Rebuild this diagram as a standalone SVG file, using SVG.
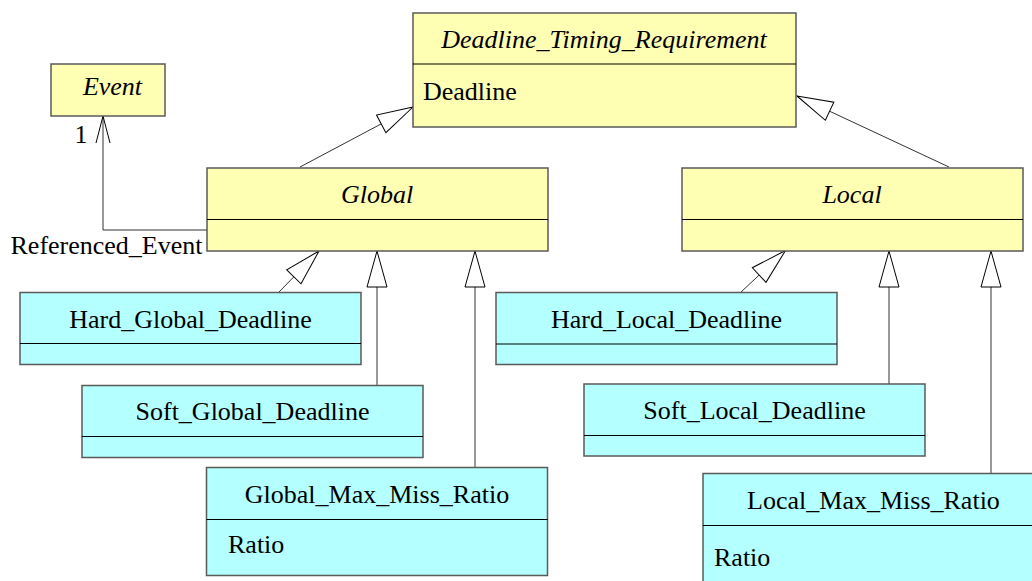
<svg xmlns="http://www.w3.org/2000/svg" width="1032" height="581" viewBox="0 0 1032 581">
<style>
text{font-family:'Liberation Serif',serif;font-size:26px;fill:#000}
.t{text-anchor:middle}
.i{font-style:italic}
.y{fill:#FFFFB4;stroke:#5a5a5a;stroke-width:1.5}
.c{fill:#B4FFFF;stroke:#5a5a5a;stroke-width:1.5}
.d{stroke:#000;stroke-width:1}
.ln{fill:none;stroke:#333;stroke-width:1}
</style>
<defs>
<marker id="genArrow" markerUnits="userSpaceOnUse" viewBox="-2 -12 40 24" refX="36" refY="0" markerWidth="40" markerHeight="24" orient="auto">
<path d="M36,0 L0,-10 L0,10 Z" fill="#fff" stroke="#000" stroke-width="1"/>
</marker>
<marker id="openArrow" markerUnits="userSpaceOnUse" viewBox="-2 -10 32 20" refX="27" refY="0" markerWidth="32" markerHeight="20" orient="auto">
<path d="M0,-7 L27,0 L0,7" fill="none" stroke="#000" stroke-width="1"/>
</marker>
</defs>
<g id="edges">
<line class="ln" x1="300" y1="167" x2="413" y2="107" marker-end="url(#genArrow)"/>
<line class="ln" x1="949" y1="167" x2="797" y2="96" marker-end="url(#genArrow)"/>
<line class="ln" x1="279" y1="292" x2="319" y2="251" marker-end="url(#genArrow)"/>
<line class="ln" x1="377" y1="385" x2="377" y2="251" marker-end="url(#genArrow)"/>
<line class="ln" x1="475" y1="467" x2="475" y2="251" marker-end="url(#genArrow)"/>
<line class="ln" x1="741" y1="292" x2="785.5" y2="250.5" marker-end="url(#genArrow)"/>
<line class="ln" x1="889" y1="384" x2="889" y2="251" marker-end="url(#genArrow)"/>
<line class="ln" x1="991" y1="473" x2="991" y2="251" marker-end="url(#genArrow)"/>
<polyline class="ln" points="207,230 103,230 103,116" marker-end="url(#openArrow)"/>
<text x="74.5" y="142.5">1</text>
<text x="10.5" y="254">Referenced_Event</text>
</g>
<g id="n_event">
<rect class="y" x="51" y="64" width="114" height="52"/>
<text class="t i" x="112.5" y="95">Event</text>
</g>
<g id="n_dtr">
<rect class="y" x="413" y="13" width="383" height="114"/>
<line class="d" x1="413" y1="64" x2="796" y2="64"/>
<text class="t i" x="604" y="48">Deadline_Timing_Requirement</text>
<text x="423" y="100">Deadline</text>
</g>
<g id="n_global">
<rect class="y" x="207" y="168" width="341" height="83"/>
<line class="d" x1="207" y1="219.5" x2="548" y2="219.5"/>
<text class="t i" x="377" y="203">Global</text>
</g>
<g id="n_local">
<rect class="y" x="682" y="168" width="341" height="83"/>
<line class="d" x1="682" y1="219.5" x2="1023" y2="219.5"/>
<text class="t i" x="852" y="203">Local</text>
</g>
<g id="n_hard_global">
<rect class="c" x="20" y="292.5" width="341" height="72"/>
<line class="d" x1="20" y1="343.5" x2="361" y2="343.5"/>
<text class="t" x="190.5" y="328">Hard_Global_Deadline</text>
</g>
<g id="n_soft_global">
<rect class="c" x="82" y="385.5" width="341" height="72"/>
<line class="d" x1="82" y1="436.5" x2="423" y2="436.5"/>
<text class="t" x="252.5" y="420">Soft_Global_Deadline</text>
</g>
<g id="n_global_mmr">
<rect class="c" x="206.5" y="467.5" width="341" height="108"/>
<line class="d" x1="206.5" y1="519.5" x2="547.5" y2="519.5"/>
<text class="t" x="377" y="503">Global_Max_Miss_Ratio</text>
<text x="228" y="553">Ratio</text>
</g>
<g id="n_hard_local">
<rect class="c" x="496" y="292.5" width="341" height="72"/>
<line class="d" x1="496" y1="344" x2="837" y2="344"/>
<text class="t" x="666.5" y="327.5">Hard_Local_Deadline</text>
</g>
<g id="n_soft_local">
<rect class="c" x="584" y="384" width="341" height="72"/>
<line class="d" x1="584" y1="435.5" x2="925" y2="435.5"/>
<text class="t" x="754.5" y="418.5">Soft_Local_Deadline</text>
</g>
<g id="n_local_mmr">
<rect class="c" x="703" y="473.5" width="341" height="120"/>
<line class="d" x1="703" y1="525.5" x2="1044" y2="525.5"/>
<text class="t" x="873.5" y="508.5">Local_Max_Miss_Ratio</text>
<text x="714" y="566">Ratio</text>
</g>
</svg>
